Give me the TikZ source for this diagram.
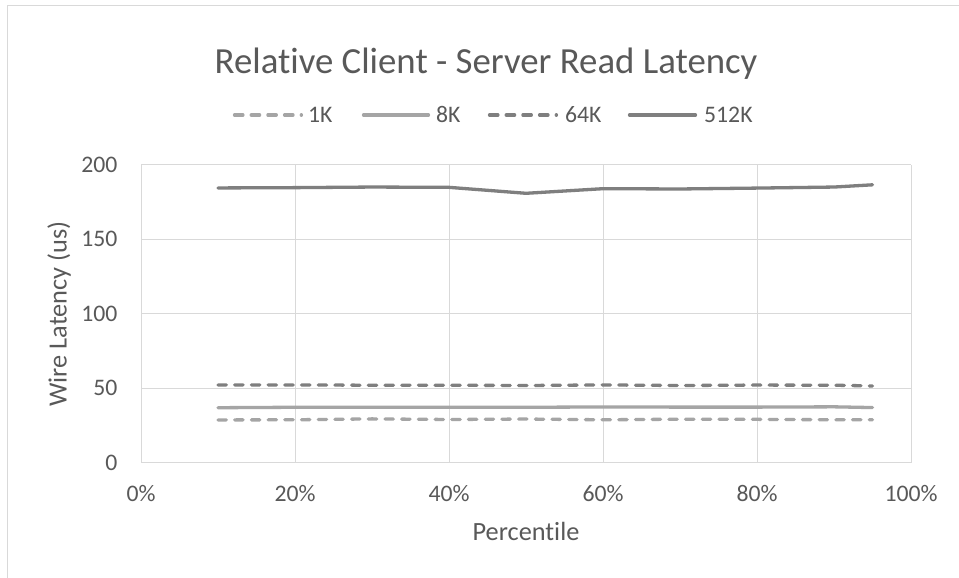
\documentclass[tikz,border=0pt]{standalone}
\usepackage{fontspec}
\setmainfont{Carlito}[Ligatures=NoCommon]
\definecolor{labelgray}{HTML}{595959}
\definecolor{gridgray}{HTML}{D9D9D9}
\definecolor{darkseries}{HTML}{7F7F7F}
\definecolor{lightseries}{HTML}{A5A5A5}
\begin{document}
\begin{tikzpicture}[x=1pt,y=1pt,
  gridline/.style={draw=gridgray, line width=1pt},
  series/.style={line width=3.3pt, line cap=round, line join=round},
  dashseries/.style={series, dash pattern=on 8.4pt off 8.3pt},
  ticklabel/.style={text=labelgray, inner sep=0pt, font=\fontsize{23.7}{26}\selectfont},
  axistitle/.style={text=labelgray, inner sep=0pt, font=\fontsize{26.3}{29}\selectfont},
  charttitle/.style={text=labelgray, inner sep=0pt, anchor=base, font=\fontsize{36.8}{40}\selectfont},
  legendtext/.style={text=labelgray, inner sep=0pt, anchor=base west, font=\fontsize{23.7}{26}\selectfont}]
\useasboundingbox (0,0) rectangle (959,578);
\fill[white] (0,0) rectangle (959,578);
% chart frame
\draw[draw=gridgray, line width=1.3pt] (7.5,0) -- (7.5,572.5) -- (959,572.5);

% title
\node[charttitle] (title) at (486,504) {Relative Client - Server Read Latency};

% legend
\draw[dashseries, draw=lightseries] (234.5,463) -- (301.4,463);
\node[legendtext] (l1k) at (308,455.5) {1K};
\draw[series, draw=lightseries] (363.5,463) -- (428.5,463);
\node[legendtext] (l8k) at (436,455.5) {8K};
\draw[dashseries, draw=darkseries] (489.5,463) -- (556.4,463);
\node[legendtext] (l64k) at (565,455.5) {64K};
\draw[series, draw=darkseries] (629.5,463) -- (695.5,463);
\node[legendtext] (l512k) at (704,455.5) {512K};

% grid
\foreach \gx in {141,295,449,603,757,911}
  \draw[gridline] (\gx,115) -- (\gx,413);
\foreach \gy in {115,189.5,264,338.5,413}
  \draw[gridline] (141,\gy) -- (911,\gy);

% y tick labels
\foreach \gy/\val in {115/0,189.5/50,264/100,338.5/150,413/200}
  \node[ticklabel, anchor=base east] at (117.5,\gy-7.5) {\val};
% x tick labels
\foreach \gx/\val in {141/0,295/20,449/40,603/60,757/80,911/100}
  \node[ticklabel, anchor=base] at (\gx,76.5) {\val\%};

% axis titles
\node[axistitle, anchor=base] (xtitle) at (526,37.5) {Percentile};
\node[axistitle, rotate=90] (ytitle) at (59,264) {Wire Latency (us)};

% data series
\begin{scope}[shift={(141,115)}, x=7.7pt, y=1.49pt]
  \draw[dashseries, draw=lightseries] plot coordinates {(10,28.9) (20,29.0) (30,29.6) (40,29.2) (50,29.5) (60,29.0) (70,29.4) (80,29.3) (90,29.0) (95,29.0)};
  \draw[series, draw=lightseries] plot coordinates {(10,37.1) (20,37.4) (30,37.4) (40,37.4) (50,37.4) (60,37.6) (70,37.5) (80,37.5) (90,37.7) (95,37.2)};
  \draw[dashseries, draw=darkseries] plot coordinates {(10,52.4) (20,52.4) (30,52.2) (40,52.2) (50,52.0) (60,52.4) (70,52.0) (80,52.3) (90,52.2) (95,51.7)};
  \draw[series, draw=darkseries] plot coordinates {(10,184.6) (20,184.8) (30,185.2) (40,185.0) (50,181.0) (60,184.1) (70,183.9) (80,184.5) (90,185.2) (95,186.7)};
\end{scope}
\end{tikzpicture}
\end{document}
